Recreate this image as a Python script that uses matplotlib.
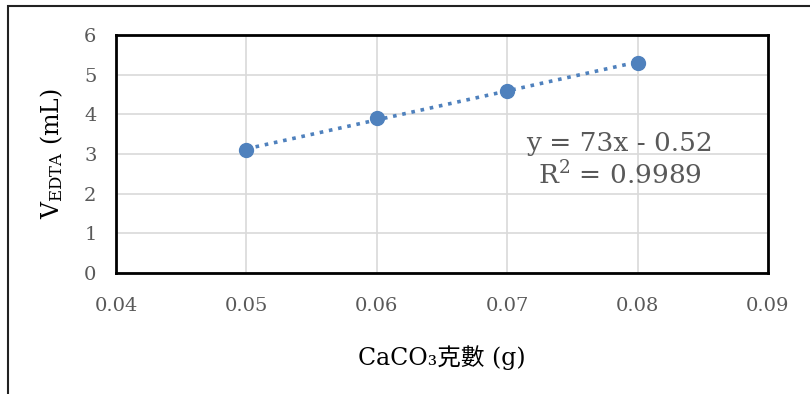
import matplotlib.pyplot as plt
import matplotlib.patches as patches
import numpy as np

mass = [0.05, 0.06, 0.07, 0.08]
volume = [3.1, 3.9, 4.6, 5.3]
slope = 73
intercept = -0.52
r2 = 0.9989

plt.rcParams['font.family'] = ['DejaVu Serif', 'Noto Sans CJK TC']
plt.rcParams['mathtext.fontset'] = 'custom'
plt.rcParams['mathtext.rm'] = 'DejaVu Serif'
plt.rcParams['mathtext.it'] = 'DejaVu Serif:italic'

fig = plt.figure(figsize=(8.1, 3.94), dpi=100)
ax = fig.add_axes([116/810, 1-273/394, (768-116)/810, (273-35)/394])

blue = '#4f81bd'
xs = np.array([mass[0], mass[-1]])
ax.plot(xs, slope*xs + intercept, color=blue, linestyle=(0, (1, 1.6)), linewidth=2.6, zorder=2)
ax.plot(mass, volume, 'o', color=blue, markersize=10, zorder=3)

ax.set_xlim(0.04, 0.09)
ax.set_ylim(0, 6)
ax.set_xticks([0.04, 0.05, 0.06, 0.07, 0.08, 0.09])
ax.set_xticklabels(['0.04', '0.05', '0.06', '0.07', '0.08', '0.09'])
ax.set_yticks(range(7))
ax.grid(True, color='#d9d9d9', linewidth=1.2, zorder=0)
ax.set_axisbelow(True)
for s in ax.spines.values():
    s.set_linewidth(2)
    s.set_color('black')
ax.tick_params(length=0, labelsize=14, labelcolor='#595959')
ax.tick_params(axis='y', pad=14)
ax.tick_params(axis='x', pad=17)

eq = 'y = %dx - %.2f\nR$^2$ = %.4f' % (slope, -intercept, r2)
ax.text(0.07865, 2.85, eq, fontsize=19, color='#595959',
        ha='center', va='center', linespacing=1.2, multialignment='center')

ax.set_ylabel(r'V$_{\mathrm{EDTA}}$ (mL)', fontsize=17, labelpad=14)
ax.set_xlabel('CaCO₃克數 (g)', fontsize=17, labelpad=22)

fig.patches.append(patches.Rectangle((8/810, -0.1), 1.1, 1.1 - 6/394,
                                     transform=fig.transFigure, fill=False,
                                     edgecolor='#222222', linewidth=1.5))

fig.savefig('out.png', dpi=100)
